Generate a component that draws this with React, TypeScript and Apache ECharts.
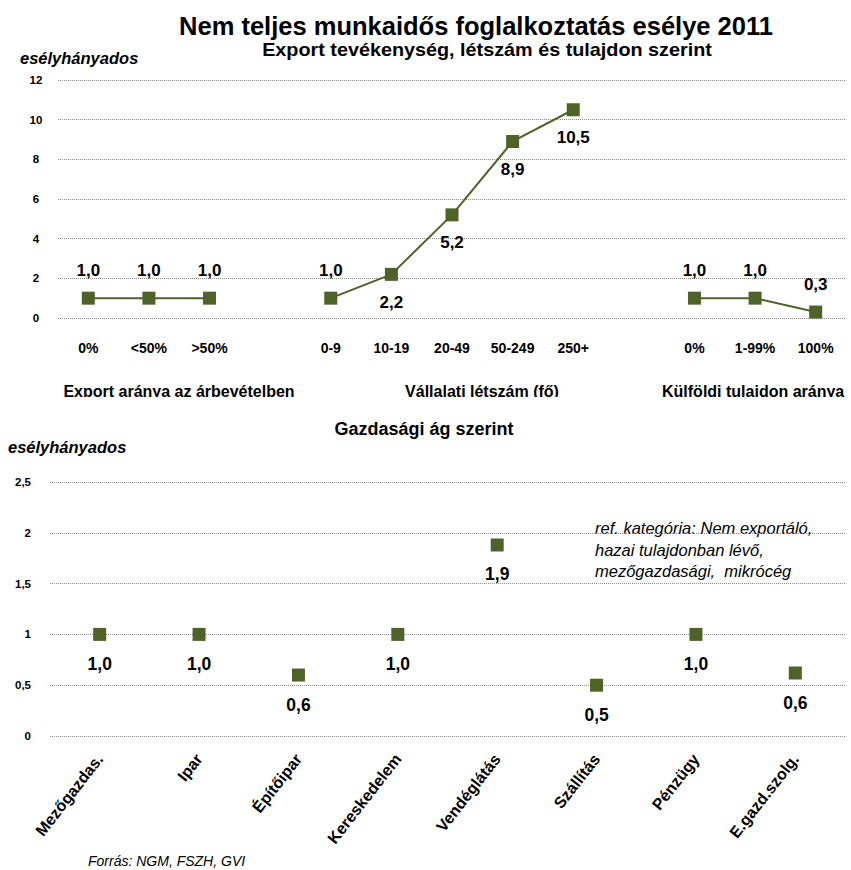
import React, { useEffect, useRef } from "react";
import * as echarts from "echarts";

const topCategories = ["0%", "<50%", ">50%", "", "0-9", "10-19", "20-49", "50-249", "250+", "", "0%", "1-99%", "100%"];
const topValues: (number | null)[] = [1.0, 1.0, 1.0, null, 1.0, 2.2, 5.2, 8.9, 10.5, null, 1.0, 1.0, 0.3];
const topGroupLabels = ["Export aránya az árbevételben", "Vállalati létszám (fő)", "Külföldi tulajdon aránya"];

const bottomCategories = ["Mezőgazdas.", "Ipar", "Építőipar", "Kereskedelem", "Vendéglátás", "Szállítás", "Pénzügy", "E.gazd.szolg."];
const bottomValues = [1.0, 1.0, 0.6, 1.0, 1.88, 0.5, 1.0, 0.62];

const titleText = "Nem teljes munkaidős foglalkoztatás esélye 2011";
const subtitleText = "Export tevékenység, létszám és tulajdon szerint";
const bottomTitleText = "Gazdasági ág szerint";
const yAxisName = "esélyhányados";
const noteLines = ["ref. kategória: Nem exportáló,", "hazai tulajdonban lévő,", "mezőgazdasági,  mikrócég"];
const sourceText = "Forrás: NGM, FSZH, GVI";

const GREEN = "#4F6228";
const FONT = "'Liberation Sans', Arial, sans-serif";

const fmt = (v: number) => v.toFixed(1).replace(".", ",");

export default function App() {
  const ref = useRef<HTMLDivElement>(null);
  useEffect(() => {
    if (!ref.current) return;
    const chart = echarts.init(ref.current, undefined, { renderer: "svg" });

    // labels placed below the point for the rising staff-size points
    const belowIdx = new Set([5, 6, 7, 8]);
    const topData = topValues.map((v, i) =>
      v === null
        ? null
        : { value: v, label: { position: belowIdx.has(i) ? "bottom" : "top" } }
    );

    const splitLine = { show: true, lineStyle: { type: "dotted" as const, color: "#8c8c8c", width: 1 } };

    const txt = (x: number, y: number, text: string, font: string, align = "center", extra: any = {}) => ({
      type: "text",
      x,
      y,
      ...extra,
      style: { text, font, fill: "#000", align, verticalAlign: "middle" },
    });

    const option: any = {
      animation: false,
      backgroundColor: "#ffffff",
      textStyle: { fontFamily: FONT },
      grid: [
        { left: 58, right: 5, top: 80, height: 238 },
        { left: 50, right: 6, top: 482, height: 254 },
      ],
      xAxis: [
        {
          gridIndex: 0,
          type: "category",
          data: topCategories,
          boundaryGap: true,
          axisLine: { show: false },
          axisTick: { show: false },
          axisLabel: { interval: 0, margin: 23, fontSize: 14, fontWeight: "bold", color: "#000", fontFamily: FONT },
        },
        {
          gridIndex: 1,
          type: "category",
          data: bottomCategories,
          boundaryGap: true,
          axisLine: { show: false },
          axisTick: { show: false },
          axisLabel: { interval: 0, rotate: 52, margin: 20, fontSize: 16, fontWeight: "bold", color: "#000", fontFamily: FONT },
        },
      ],
      yAxis: [
        {
          gridIndex: 0,
          type: "value",
          min: 0,
          max: 12,
          interval: 2,
          axisLine: { show: false },
          axisTick: { show: false },
          splitLine,
          axisLabel: { margin: 22, align: "center", fontSize: 11.5, fontWeight: "bold", color: "#000", fontFamily: FONT },
        },
        {
          gridIndex: 1,
          type: "value",
          min: 0,
          max: 2.5,
          interval: 0.5,
          axisLine: { show: false },
          axisTick: { show: false },
          splitLine,
          axisLabel: {
            margin: 19,
            align: "right",
            fontSize: 11.5,
            fontWeight: "bold",
            color: "#000",
            fontFamily: FONT,
            formatter: (v: number) => String(v).replace(".", ","),
          },
        },
      ],
      series: [
        {
          type: "line",
          xAxisIndex: 0,
          yAxisIndex: 0,
          data: topData,
          connectNulls: false,
          symbol: "rect",
          symbolSize: 13,
          lineStyle: { color: GREEN, width: 2 },
          itemStyle: { color: GREEN, opacity: 1 },
          label: {
            show: true,
            distance: 13,
            fontSize: 17,
            fontWeight: "bold",
            color: "#000",
            fontFamily: FONT,
            formatter: (p: any) => fmt(p.value),
          },
        },
        {
          type: "scatter",
          xAxisIndex: 1,
          yAxisIndex: 1,
          data: bottomValues,
          symbol: "rect",
          symbolSize: 13,
          itemStyle: { color: GREEN, opacity: 1 },
          label: {
            show: true,
            position: "bottom",
            distance: 14,
            fontSize: 17.5,
            fontWeight: "bold",
            color: "#000",
            fontFamily: FONT,
            formatter: (p: any) => fmt(p.value),
          },
        },
      ],
      graphic: [
        txt(476, 26, titleText, `bold 25.5px ${FONT}`),
        txt(487, 50, subtitleText, `bold 18px ${FONT}`, "center", { scaleX: 1.1 }),
        txt(20, 58, yAxisName, `italic bold 16.5px ${FONT}`, "left"),
        txt(179, 391, topGroupLabels[0], `bold 16px ${FONT}`),
        txt(482, 391, topGroupLabels[1], `bold 16px ${FONT}`),
        txt(662, 391, topGroupLabels[2], `bold 16px ${FONT}`, "left"),
        { type: "rect", shape: { x: 0, y: 397, width: 851, height: 10 }, style: { fill: "#ffffff" } },
        txt(424, 429, bottomTitleText, `bold 18px ${FONT}`),
        txt(8, 447, yAxisName, `italic bold 16.5px ${FONT}`, "left"),
        ...noteLines.map((t, i) => txt(595, 528 + i * 21.5, t, `italic 16.5px ${FONT}`, "left")),
        txt(88, 861, sourceText, `italic 14px ${FONT}`, "left"),
      ],
    };
    chart.setOption(option);
    return () => chart.dispose();
  }, []);
  return <div ref={ref} style={{ position: "absolute", left: 0, top: 0, width: 851, height: 870 }} />;
}
